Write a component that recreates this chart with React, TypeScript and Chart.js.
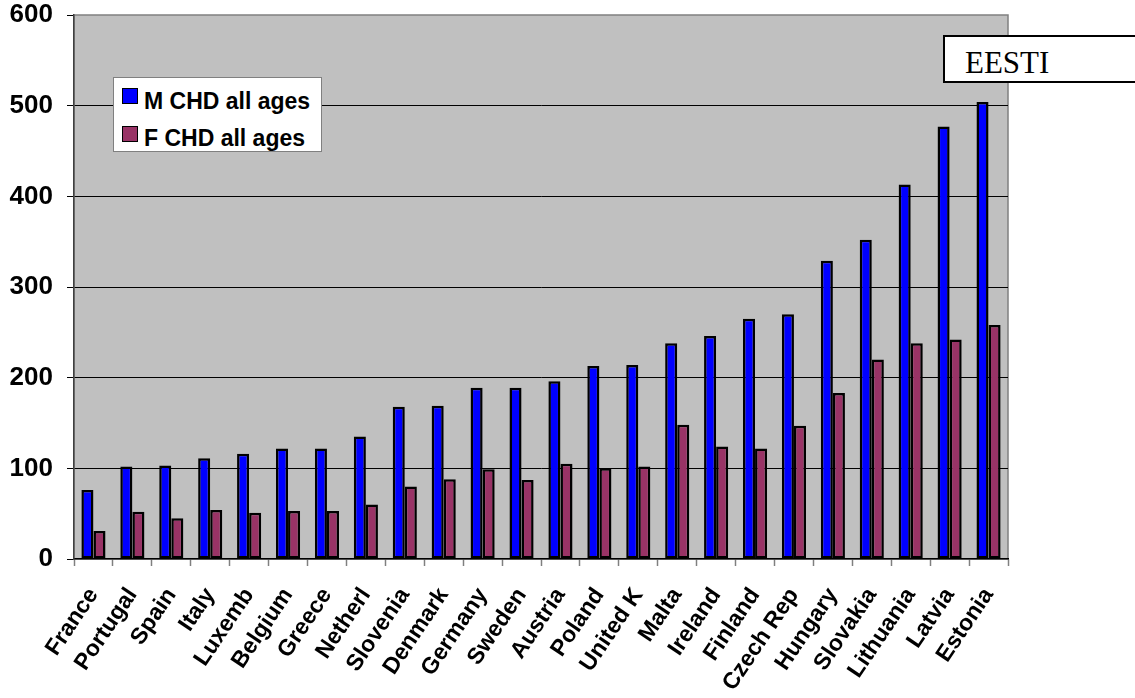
import React, { useEffect, useRef } from 'react';
import { Chart, registerables } from 'chart.js';

Chart.register(...registerables);

const categories = [
  'France', 'Portugal', 'Spain', 'Italy', 'Luxemb', 'Belgium', 'Greece', 'Netherl',
  'Slovenia', 'Denmark', 'Germany', 'Sweden', 'Austria', 'Poland', 'United K', 'Malta',
  'Ireland', 'Finland', 'Czech Rep', 'Hungary', 'Slovakia', 'Lithuania', 'Latvia', 'Estonia',
];
const maleValues = [76, 102, 103, 111, 116, 122, 122, 135, 168, 169, 189, 189, 196, 213, 214, 238, 246, 265, 270, 329, 352, 413, 477, 504];
const femaleValues = [31, 52, 45, 54, 51, 53, 53, 60, 80, 88, 99, 87, 105, 100, 102, 148, 124, 122, 147, 183, 220, 238, 242, 258];
const yTicks = [0, 100, 200, 300, 400, 500, 600];
const seriesLabels = ['M CHD all ages', 'F CHD all ages'];
const seriesColors = ['#0000FF', '#993366'];
const boxText = 'EESTI';

const SANS = '"Liberation Sans", Arial, sans-serif';

const plotBg = {
  id: 'plotBg',
  beforeDraw(chart: any) {
    const { ctx, chartArea: a } = chart;
    ctx.save();
    ctx.fillStyle = '#C0C0C0';
    ctx.fillRect(a.left, a.top, a.right - a.left, a.bottom - a.top);
    ctx.strokeStyle = '#808080';
    ctx.lineWidth = 1.5;
    ctx.strokeRect(a.left, a.top, a.right - a.left, a.bottom - a.top);
    ctx.restore();
  },
};

export default function App() {
  const ref = useRef<HTMLCanvasElement>(null);

  useEffect(() => {
    if (!ref.current) return;
    const chart = new Chart(ref.current, {
      type: 'bar',
      data: {
        labels: categories,
        datasets: [
          {
            label: seriesLabels[0],
            data: maleValues,
            backgroundColor: seriesColors[0],
            borderColor: '#000',
            borderWidth: 2.5,
            borderSkipped: false,
            barPercentage: 1,
            categoryPercentage: 0.62,
          },
          {
            label: seriesLabels[1],
            data: femaleValues,
            backgroundColor: seriesColors[1],
            borderColor: '#000',
            borderWidth: 2.5,
            borderSkipped: false,
            barPercentage: 1,
            categoryPercentage: 0.62,
          },
        ],
      },
      options: {
        animation: false,
        responsive: false,
        devicePixelRatio: 1,
        layout: { padding: { top: 15, right: 127, left: 0, bottom: 0 } },
        plugins: {
          legend: { display: false },
          tooltip: { enabled: false },
        },
        scales: {
          x: {
            grid: {
              offset: true,
              drawOnChartArea: false,
              tickLength: 7,
              tickColor: '#808080',
              tickWidth: 1.5,
            },
            border: { color: '#000', width: 1.5 },
            ticks: {
              autoSkip: false,
              maxRotation: 56,
              minRotation: 56,
              padding: 17,
              color: '#000',
              font: { family: SANS, size: 23, weight: 'bold' },
            },
            afterFit: (s: any) => {
              s.height = 139;
              s.paddingLeft = 0;
              s.paddingRight = 0;
            },
          },
          y: {
            min: 0,
            max: 600,
            afterBuildTicks: (s: any) => {
              s.ticks = yTicks.map((v) => ({ value: v }));
            },
            ticks: {
              padding: 14,
              color: '#000',
              font: { family: SANS, size: 26, weight: 'bold' },
            },
            grid: {
              color: (c: any) =>
                c.tick && (c.tick.value === 0 || c.tick.value === 600) ? 'rgba(0,0,0,0)' : '#000',
              lineWidth: 1,
              tickLength: 7,
              tickColor: '#000',
            },
            border: { color: '#404040', width: 1.5 },
            afterFit: (s: any) => {
              s.width = 74;
              s.paddingTop = 0;
              s.paddingBottom = 0;
            },
          },
        },
      },
      plugins: [plotBg],
    } as any);
    return () => chart.destroy();
  }, []);

  const swatch = (color: string, top: number) => (
    <div
      style={{
        position: 'absolute',
        left: 7.5,
        top,
        width: 16,
        height: 16,
        boxSizing: 'border-box',
        background: color,
        border: '1.5px solid #000',
      }}
    />
  );
  const label = (text: string, top: number) => (
    <div
      style={{
        position: 'absolute',
        left: 30,
        top,
        font: `bold 23px ${SANS}`,
        lineHeight: '23px',
        whiteSpace: 'nowrap',
        color: '#000',
      }}
    >
      {text}
    </div>
  );

  return (
    <div style={{ position: 'absolute', left: 0, top: 0, width: 1135, height: 698, overflow: 'hidden', background: '#fff' }}>
      <canvas ref={ref} width={1135} height={698} style={{ display: 'block', width: 1135, height: 698 }} />
      <div
        style={{
          position: 'absolute',
          left: 113,
          top: 77,
          width: 209,
          height: 75,
          boxSizing: 'border-box',
          background: '#fff',
          border: '1px solid #808080',
        }}
      >
        {swatch(seriesColors[0], 10)}
        {label(seriesLabels[0], 11.5)}
        {swatch(seriesColors[1], 47.5)}
        {label(seriesLabels[1], 49)}
      </div>
      <div
        style={{
          position: 'absolute',
          left: 943,
          top: 35,
          width: 210,
          height: 48,
          boxSizing: 'border-box',
          background: '#fff',
          border: '2px solid #000',
        }}
      >
        <div
          style={{
            position: 'absolute',
            left: 20,
            top: 11,
            font: '31px "Liberation Serif", "Times New Roman", serif',
            lineHeight: '30px',
            color: '#000',
            whiteSpace: 'nowrap',
          }}
        >
          {boxText}
        </div>
      </div>
    </div>
  );
}
